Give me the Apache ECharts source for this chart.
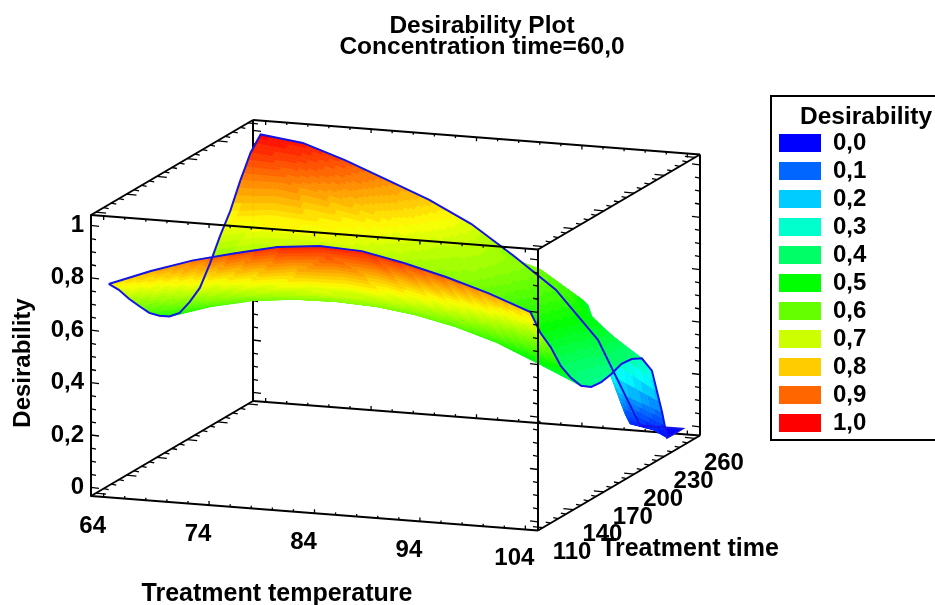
<!DOCTYPE html>
<html><head><meta charset="utf-8">
<style>html,body{margin:0;padding:0;background:#fff}#c{width:935px;height:605px}</style>
<script src="https://cdn.jsdelivr.net/npm/echarts@6/dist/echarts.min.js"></script>
</head><body><div id="c"></div>
<script>
// ---- data ----
const treatmentTemps = [64,68,72,76,80,84,88,92,96,100,104];
const treatmentTimes = [110,120,130,140,150,160,170,180,190,200,210,220,230,240,245,250,260];
const z64  = [.769,.724,.667,.617,.568,.534,.509,.50,.519,.55,.62,.703,.775,.87,.91,.952,1.0];
const z68  = [.831,.777,.723,.666,.617,.582,.56,.56,.577,.602,.661,.732,.791,.871,.904,.938,.98];
const z72  = [.884,.826,.768,.708,.656,.618,.595,.595,.608,.628,.675,.731,.778,.841,.867,.894,.927];
const z76  = [.924,.862,.799,.734,.678,.637,.612,.612,.625,.645,.68,.72,.755,.805,.825,.845,.864];
const z80  = [.96,.891,.822,.75,.687,.643,.615,.615,.625,.64,.665,.695,.72,.755,.77,.785,.80];
const z84  = [.976,.902,.828,.751,.684,.637,.607,.607,.615,.627,.645,.665,.68,.70,.708,.715,.72];
const z88  = [.969,.892,.815,.735,.666,.616,.585,.585,.60,.615,.635,.655,.665,.665,.655,.645,.611];
const z92  = [.936,.859,.782,.70,.631,.581,.55,.55,.56,.575,.59,.605,.62,.62,.605,.575,.494];
const z96  = [.895,.816,.737,.654,.583,.532,.50,.50,.505,.515,.525,.54,.56,.525,.50,.47,.315];
const z100 = [.846,.763,.68,.592,.517,.463,.43,.41,.42,.44,.46,.47,.42,.17,.08,.03,0];
const z104 = [.786,.683,.607,.512,.444,.391,.364,.36,.368,.384,.38,.36,.29,.11,0,0,0];
const desirability = [z64,z68,z72,z76,z80,z84,z88,z92,z96,z100,z104];
const tempLabels = [64,74,84,94,104];
const timeLabels = [110,140,170,200,230,260];
const zLabels = [0,.2,.4,.6,.8,1];
const legendLabels = ['0,0','0,1','0,2','0,3','0,4','0,5','0,6','0,7','0,8','0,9','1,0'];
const legendValues = [0,.1,.2,.3,.4,.5,.6,.7,.8,.9,1];

// ---- axis box ----
const Tmin=62.8,Tmax=105.2,tmin=105,tmax=265,zmin=-0.033,zmax=1.04;
const pxT=447/(Tmax-Tmin), pxZ=281/(zmax-zmin);
const tDx=162/(tmax-tmin), tDy=95/(tmax-tmin), TDy=34.5/(Tmax-Tmin);
// oblique projection of (T,t,z) on to the front plane of the box, whose axes are T and z
function project(T,t,z){
  return [T+(t-tmin)*tDx/pxT, z-(T-Tmin)*TDy/pxZ+(t-tmin)*tDy/pxZ];
}
function colorOf(z){
  const stops=[[0,0,0,255],[.25,0,255,255],[.5,0,255,0],[.75,255,255,0],[1,255,0,0]];
  z=Math.max(0,Math.min(1,z));
  for(let i=1;i<stops.length;i++){ if(z<=stops[i][0]){
    const a=stops[i-1],b=stops[i],f=(z-a[0])/(b[0]-a[0]);
    return 'rgb('+[1,2,3].map(k=>Math.round(a[k]+(b[k]-a[k])*f)).join(',')+')';
  }}
  return 'rgb(255,0,0)';
}
// surface cells, painted back to front
const cells=[];
for(let j=treatmentTimes.length-2;j>=0;j--) for(let i=treatmentTemps.length-2;i>=0;i--) cells.push([treatmentTemps[i],treatmentTimes[j],desirability[i][j],i,j]);
const SUB_T=10,SUB_t=4,BAND=0.02;
function renderCell(params,api){
  const c=cells[params.dataIndex],i=c[3],j=c[4],kids=[];
  const T0=treatmentTemps[i],T1=treatmentTemps[i+1],t0=treatmentTimes[j],t1=treatmentTimes[j+1];
  const Z=(u,v)=>(1-u)*(1-v)*desirability[i][j]+u*(1-v)*desirability[i+1][j]+(1-u)*v*desirability[i][j+1]+u*v*desirability[i+1][j+1];
  const P=(u,v)=>api.coord(project(T0+(T1-T0)*u,t0+(t1-t0)*v,Z(u,v)));
  for(let b=SUB_t-1;b>=0;b--) for(let a=SUB_T-1;a>=0;a--){
    const u0=a/SUB_T,u1=(a+1)/SUB_T,v0=b/SUB_t,v1=(b+1)/SUB_t;
    const zc=Math.round(Z((u0+u1)/2,(v0+v1)/2)/BAND)*BAND, col=colorOf(zc);
    kids.push({type:'polygon',silent:true,shape:{points:[P(u0,v0),P(u1,v0),P(u1,v1),P(u0,v1)]},style:{fill:col,stroke:col,lineWidth:.7}});
  }
  return {type:'group',children:kids};
}
// outline of the surface
const outline=[];
treatmentTimes.forEach((t,j)=>outline.push(project(64,t,z64[j])));
treatmentTemps.forEach((T,i)=>outline.push(project(T,260,desirability[i][16])));
for(let j=16;j>=0;j--) outline.push(project(104,treatmentTimes[j],z104[j]));
for(let i=10;i>=0;i--) outline.push(project(treatmentTemps[i],110,desirability[i][0]));

// box edges: [from, to]
const edgesBack=[[[Tmin,tmax,zmin],[Tmin,tmax,zmax]],[[Tmin,tmax,zmin],[Tmax,tmax,zmin]]];
const edgesFront=[
 [[Tmin,tmin,zmin],[Tmax,tmin,zmin]],[[Tmin,tmin,zmin],[Tmin,tmax,zmin]],[[Tmax,tmin,zmin],[Tmax,tmax,zmin]],
 [[Tmax,tmax,zmin],[Tmax,tmax,zmax]],[[Tmax,tmin,zmin],[Tmax,tmin,zmax]],
 [[Tmin,tmin,zmax],[Tmax,tmin,zmax]],[[Tmin,tmin,zmax],[Tmin,tmax,zmax]],[[Tmax,tmin,zmax],[Tmax,tmax,zmax]],[[Tmin,tmax,zmax],[Tmax,tmax,zmax]]];
function tickList(back){
  const out=[];
  const add=(p,dx,dy)=>out.push([p,dx,dy]);
  for(let k=0;k<=20;k++){const z=k*.05,m=k%4===0?8:5;
    if(back){add([Tmin,tmax,z],m,1);}
    else{add([Tmin,tmin,z],m,1);add([Tmax,tmin,z],-m,-1);add([Tmax,tmax,z],-m,-1);}
  }
  for(let k=0;k<=20;k++){const T=64+k*2,m=k%5===0?4:2.5;
    if(back){add([T,tmax,zmin],0,-m);}
    else{add([T,tmin,zmin],0,-m);add([T,tmin,zmax],0,m);add([T,tmax,zmax],0,m);}
  }
  for(let k=0;k<=20;k++){const t=110+k*7.5,m=k%4===0?10:5;
    if(!back){add([Tmin,t,zmin],m,1);add([Tmin,t,zmax],m,1);add([Tmax,t,zmin],-m,-1);add([Tmax,t,zmax],-m,-1);}
  }
  return out;
}
function boxRenderer(edges,ticks){
  return function(params,api){
    const kids=[];
    edges.forEach(e=>{const a=api.coord(project(...e[0])),b=api.coord(project(...e[1]));
      kids.push({type:'line',silent:true,shape:{x1:a[0],y1:a[1],x2:b[0],y2:b[1]},style:{stroke:'#000',lineWidth:2}});});
    ticks.forEach(k=>{const a=api.coord(project(...k[0]));
      kids.push({type:'line',silent:true,shape:{x1:a[0],y1:a[1],x2:a[0]+k[1],y2:a[1]+k[2]},style:{stroke:'#000',lineWidth:1.3}});});
    return {type:'group',children:kids};
  };
}
const labelFont='bold 24px "Liberation Sans", Arial, sans-serif';
function labelSeries(values,toPoint,dx,dy){
  return {type:'custom',coordinateSystem:'cartesian2d',clip:false,silent:true,z:6,animation:false,
    data:values.map(v=>[v]),encode:{x:0,y:-1},
    renderItem(params,api){
      const v=values[params.dataIndex],p=api.coord(project(...toPoint(v)));
      return {type:'text',silent:true,style:{text:String(v),x:p[0]+dx,y:p[1]+dy,align:'center',verticalAlign:'middle',font:labelFont,fill:'#000'}};
    }};
}
const chart=echarts.init(document.getElementById('c'),null,{renderer:'canvas'});
chart.setOption({
  animation:false,backgroundColor:'#fff',
  title:[
   {text:'Desirability Plot',left:477,textAlign:'center',top:11,textStyle:{fontFamily:'Liberation Sans',fontWeight:'bold',fontSize:24.5,color:'#000',lineHeight:20}},
   {text:'Concentration time=60,0',left:477,textAlign:'center',top:32,textStyle:{fontFamily:'Liberation Sans',fontWeight:'bold',fontSize:24.5,color:'#000',lineHeight:20}},
   {text:'Desirability',left:795,top:100,textStyle:{fontFamily:'Liberation Sans',fontWeight:'bold',fontSize:24.5,color:'#000',lineHeight:24}}
  ],
  grid:{left:91,top:215,width:447,height:281,containLabel:false,show:false},
  xAxis:{type:'value',min:Tmin,max:Tmax,show:false},
  yAxis:{type:'value',min:zmin,max:zmax,
    axisLine:{show:true,onZero:false,lineStyle:{color:'#000',width:2}},
    splitLine:{show:false},
    axisTick:{show:false},
    axisLabel:{customValues:zLabels,margin:7,color:'#000',fontFamily:'Liberation Sans',fontWeight:'bold',fontSize:24,
      formatter:v=>String(v).replace('.',',')}},
  legend:{left:774,top:126,orient:'vertical',icon:'rect',itemWidth:42,itemHeight:18,itemGap:4,selectedMode:false,
    data:legendLabels,textStyle:{fontFamily:'Liberation Sans',fontWeight:'bold',fontSize:24,lineHeight:18,color:'#000',padding:[0,0,0,7]}},
  graphic:[
    {type:'rect',z:-1,silent:true,shape:{x:771,y:96,width:180,height:344},style:{fill:'#fff',stroke:'#000',lineWidth:2}},
    {type:'text',silent:true,x:277,y:594,style:{text:'Treatment temperature',align:'center',verticalAlign:'middle',font:'bold 25px "Liberation Sans"',fill:'#000'}},
    {type:'text',silent:true,x:690,y:549,style:{text:'Treatment time',align:'center',verticalAlign:'middle',font:'bold 25px "Liberation Sans"',fill:'#000'}},
    {type:'text',silent:true,x:23,y:363,rotation:Math.PI/2,style:{text:'Desirability',align:'center',verticalAlign:'middle',font:'bold 24px "Liberation Sans"',fill:'#000'}}
  ],
  series:[
    {type:'custom',coordinateSystem:'cartesian2d',clip:false,silent:true,z:1,data:[[0,0]],encode:{x:0,y:1},renderItem:boxRenderer(edgesBack,tickList(true))},
    {type:'custom',name:'Desirability surface',coordinateSystem:'cartesian2d',clip:false,silent:true,z:2,data:cells,encode:{x:0,y:2},renderItem:renderCell},
    {type:'custom',name:'outline',coordinateSystem:'cartesian2d',clip:false,silent:true,z:3,data:[[0,0]],encode:{x:0,y:1},
      renderItem(params,api){return {type:'polyline',silent:true,shape:{points:outline.map(p=>api.coord(p))},style:{fill:null,stroke:'#1414e6',lineWidth:2}};}},
    {type:'custom',coordinateSystem:'cartesian2d',clip:false,silent:true,z:4,data:[[0,0]],encode:{x:0,y:1},renderItem:boxRenderer(edgesFront,tickList(false))},
    labelSeries(tempLabels,T=>[T,tmin,zmin],-11,29),
    labelSeries(timeLabels,t=>[Tmax,t,zmin],29,25)
  ].concat(legendLabels.map((n,i)=>({type:'line',name:n,data:[],itemStyle:{color:colorOf(legendValues[i])},lineStyle:{color:colorOf(legendValues[i])}})))
});
</script></body></html>
